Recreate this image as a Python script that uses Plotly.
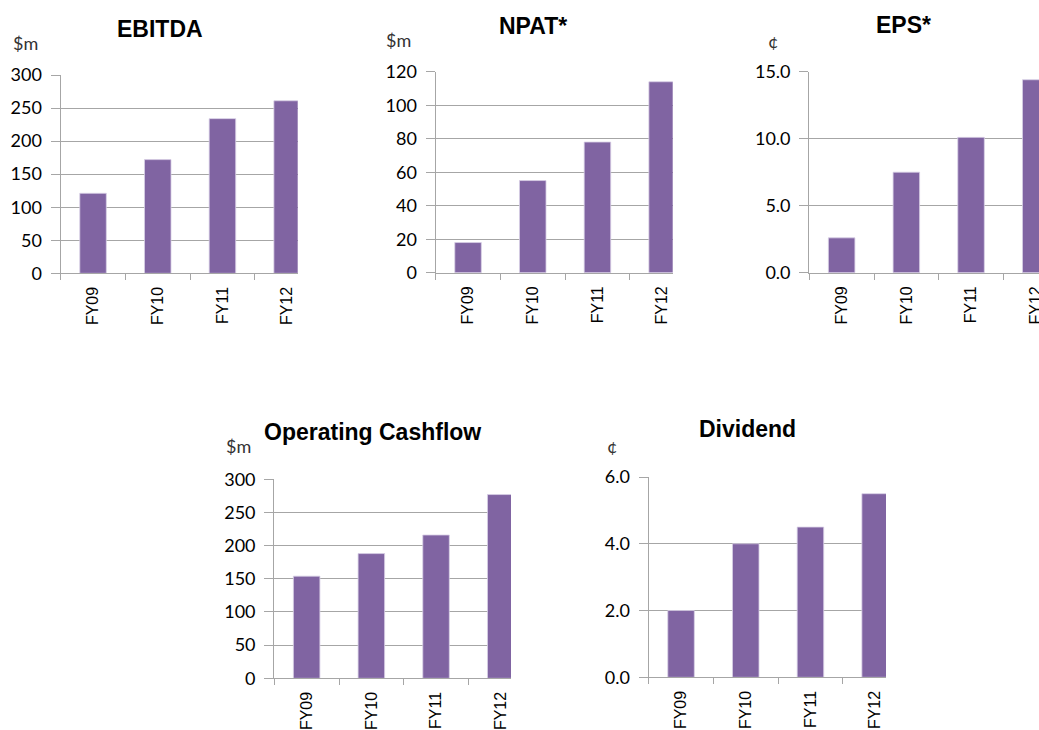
import plotly.graph_objects as go

# ---- data ----
categories = ["FY09", "FY10", "FY11", "FY12"]
ebitda = [121, 172, 234, 261]
npat = [18, 55, 78, 114]
eps = [2.6, 7.5, 10.1, 14.4]
ocf = [154, 188, 216, 277]
dividend = [2.0, 4.0, 4.5, 5.5]

titles = ["EBITDA", "NPAT*", "EPS*", "Operating Cashflow", "Dividend"]
units = ["$m", "$m", "¢", "$m", "¢"]
y_max = [300, 120, 15, 300, 6]
y_dtick = [50, 20, 5, 50, 2]
y_fmt = ["d", "d", ".1f", "d", ".1f"]
series = [ebitda, npat, eps, ocf, dividend]

# ---- layout geometry (pixels) ----
W, H = 1039, 730
# plot boxes: x0, x1, ytop, ybottom
boxes = [
    (60.7, 297.7, 75.0, 273.3),
    (435.7, 672.7, 71.7, 272.7),
    (809.3, 1039.0, 71.7, 272.7),
    (274.3, 511.0, 479.3, 678.3),
    (648.7, 886.0, 477.0, 677.3),
]
cat_px = 64.7
title_pos = [(159.5, 29), (532.5, 26), (903, 25), (372.5, 432), (747, 429)]
unit_pos = [(25, 43), (398, 40), (772.5, 41), (238, 446), (611.5, 446)]

BAR = "#8064A2"
GRID = "#a6a6a6"

fig = go.Figure()
annotations = []
for i in range(5):
    sfx = "" if i == 0 else str(i + 1)
    x0, x1, yt, yb = boxes[i]
    fig.add_trace(go.Bar(
        x=categories, y=series[i],
        xaxis="x" + sfx, yaxis="y" + sfx,
        marker=dict(color=BAR, line=dict(color="#d8cfe6", width=0.8)),
        showlegend=False, hoverinfo="x+y",
    ))
    xr = -0.5 + (x1 - x0) / cat_px
    fig.update_layout(**{
        "xaxis" + sfx: dict(
            domain=[x0 / W, x1 / W], anchor="y" + sfx,
            type="category", range=[-0.5, xr], automargin=False,
            tickson="boundaries", ticks="outside", ticklen=6, tickcolor=GRID,
            showgrid=False, showline=True, linecolor=GRID, linewidth=1.3,
            tickangle=-90, ticklabelstandoff=6,
            tickfont=dict(family="Liberation Sans, Arial", size=16, color="#000"),
            fixedrange=True,
        ),
        "yaxis" + sfx: dict(
            domain=[1 - yb / H, 1 - yt / H], anchor="x" + sfx,
            range=[0, y_max[i]], dtick=y_dtick[i], tickformat=y_fmt[i],
            automargin=False,
            ticks="outside", ticklen=9, tickcolor=GRID,
            showgrid=True, gridcolor=GRID, gridwidth=1.3,
            showline=True, linecolor=GRID, linewidth=1.3, zeroline=False,
            ticklabelstandoff=5,
            tickfont=dict(family="Lato, Open Sans", size=18, color="#000"),
            fixedrange=True,
        ),
    })
    tx, ty = title_pos[i]
    annotations.append(dict(
        text="<b>%s</b>" % titles[i], x=tx / W, y=1 - ty / H,
        xref="paper", yref="paper", xanchor="center", yanchor="middle",
        showarrow=False,
        font=dict(family="Liberation Sans, Arial", size=23, color="#000"),
    ))
    ux, uy = unit_pos[i]
    annotations.append(dict(
        text=units[i], x=ux / W, y=1 - uy / H,
        xref="paper", yref="paper", xanchor="center", yanchor="middle",
        showarrow=False,
        font=dict(family="Lato, Open Sans", size=18, color="#333"),
    ))

fig.update_layout(
    width=W, height=H,
    margin=dict(l=0, r=0, t=0, b=0, pad=0, autoexpand=False),
    paper_bgcolor="white", plot_bgcolor="white",
    bargap=0.59,
    annotations=annotations,
)

fig.write_html(
    "out.html",
    config=dict(displayModeBar=False),
    post_script="document.body.style.margin='0';document.body.style.overflow='hidden';",
)
